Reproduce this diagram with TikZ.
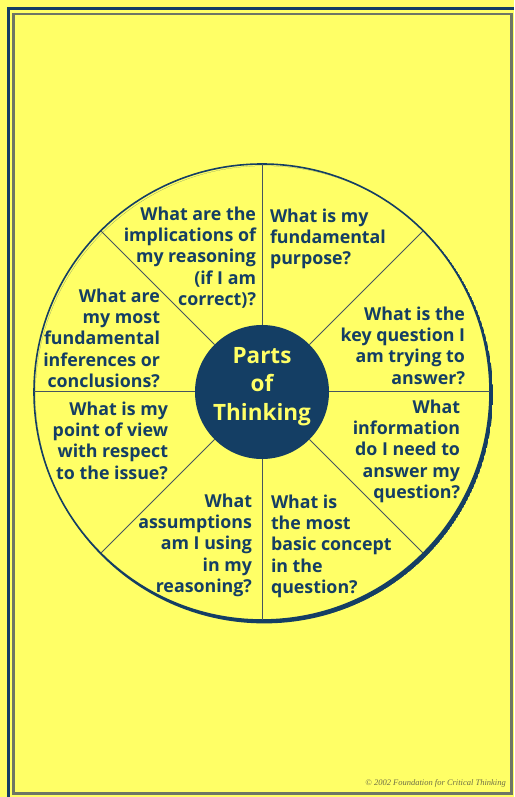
\documentclass[tikz,border=0pt]{standalone}
\usepackage{fontspec}
\setmainfont{Open Sans}
\newfontfamily\notefont{Liberation Serif}
\usetikzlibrary{positioning}
\definecolor{pagebg}{RGB}{255,255,102}
\definecolor{navy}{RGB}{20,62,100}
\definecolor{spokegray}{RGB}{70,85,95}
\definecolor{framegray}{RGB}{110,118,100}
\definecolor{notegray}{RGB}{110,110,70}

\begin{document}
\begin{tikzpicture}[x=1pt,y=1pt,
 question/.style={font=\bfseries\fontsize{17.8}{21.2}\selectfont,text=navy,inner sep=0pt,outer sep=0pt},
 qleft/.style={question,align=left,anchor=north west},
 qright/.style={question,align=right,anchor=north east},
 spoke/.style={draw=spokegray,line width=1pt},
 hub/.style={circle,fill=navy,minimum size=134pt,inner sep=0pt,outer sep=0pt},
 wheel/.style={circle,draw=navy,line width=1.6pt,minimum size=456pt,inner sep=0pt,outer sep=0pt}
]
\fill[pagebg] (0,0) rectangle (514,797);
\useasboundingbox (0,0) rectangle (514,797);
% frame
\draw[navy,line width=2.8pt] (8.3,0) -- (8.3,788.7) -- (514,788.7);
\draw[framegray,line width=2.4pt] (13.5,3.5) rectangle (511.5,783);
% wheel and hub
\node[wheel] (wheel) at (262,405) {};
\begin{scope}
 \clip ([shift={(-50:3.4pt)}]wheel.center) circle (228.8pt);
 \fill[navy,even odd rule] ([shift={(-50:3.4pt)}]wheel.center) circle (228.8pt) (wheel.center) circle (228pt);
\end{scope}
\node[hub] (hub) at (wheel.center) {};
\foreach \a in {0,45,...,315}
 \draw[spoke] (hub.\a) -- (wheel.\a);
\node[font=\bfseries\fontsize{22.5}{28.5}\selectfont,text=pagebg,align=center,inner sep=0pt] (title) at ([yshift=5.5pt]hub.center) {Parts\\of\\Thinking};
% questions
\node[qright] (implications) at (256,590) {What are the\\implications of\\my reasoning\\(if I am\\correct)?};
\node[qleft] (purpose) at (270,588) {What is my\\fundamental\\purpose?};
\node[qright] (inferences) at (160,508) {What are\\my most\\fundamental\\inferences or\\conclusions?};
\node[qright] (question) at (465,490) {What is the\\key question I\\am trying to\\answer?};
\node[qright] (viewpoint) at (168,395) {What is my\\point of view\\with respect\\to the issue?};
\node[qright] (information) at (460,397) {What\\information\\do I need to\\answer my\\question?};
\node[qright] (assumptions) at (252,303) {What\\assumptions\\am I using\\in my\\reasoning?};
\node[qleft] (concept) at (271,302) {What is\\the most\\basic concept\\in the\\question?};
\node[font=\notefont\itshape\fontsize{8.5}{10}\selectfont,text=notegray,anchor=base east,inner sep=0pt] (credit) at (506,11) {© 2002 Foundation for Critical Thinking};
\end{tikzpicture}
\end{document}
